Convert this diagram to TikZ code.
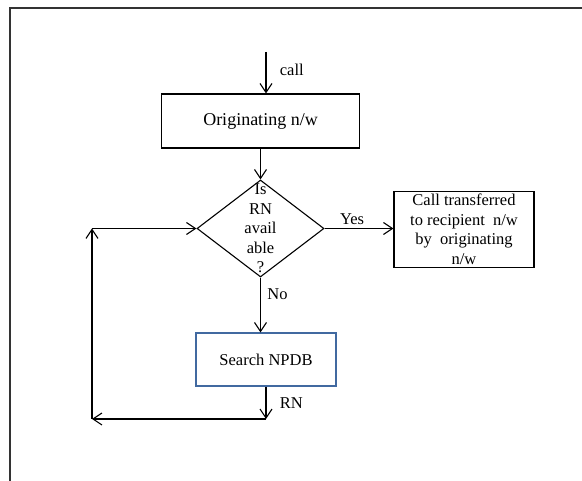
\documentclass[tikz,border=0pt]{standalone}
\usepackage{fontspec}
\setmainfont{Liberation Serif}
\usetikzlibrary{shapes.geometric, arrows.meta}
\definecolor{npdbblue}{RGB}{65,105,160}

\begin{document}
\begin{tikzpicture}[x = 1pt, y = -1pt, line width = 1.1pt,
        font = \fontsize{16.5}{19.5}\selectfont,
        box/.style = {draw = #1, rectangle, inner sep = 0pt, align = center},
        box/.default = black,
        decision/.style = {draw, diamond, minimum width = 127pt, minimum height = 97pt, inner sep = 0pt},
        arr/.style = {-{Straight Barb[length = 9pt, width = 12pt]}}]
    \useasboundingbox (0, 0) rectangle (582, 481);
    \draw[line width = 1.5pt, black!80] (10, 481) -- (10, 8) -- (582, 8);
    \node[box, minimum width = 198pt, minimum height = 54pt, font = \fontsize{18}{20}\selectfont] (orig) at (260.5, 121) {Originating n/w};
    \node[decision] (dec) at (260.5, 228.5) {};
    \node[align = center] (dectext) at (dec.center) {Is\\RN\\avail\\able\\?};
    \node[box, minimum width = 140pt, minimum height = 76pt] (trans) at (464, 229.5) {Call transferred\\to recipient\ \ n/w\\by\ \ originating\\n/w};
    \node[box = npdbblue, minimum width = 140pt, minimum height = 53pt] (npdb) at (266, 359.5) {Search NPDB};
    \coordinate (callin) at (266, 52);
    \coordinate (rnend) at (266, 419);
    \coordinate (lowleft) at (92, 419);
    \coordinate (upleft) at (92, 228.5);
    % main flow
    \draw[arr] (callin) -- node[right, xshift = 10pt, yshift = 3pt]{call} (callin |- orig.north);
    \draw[arr] (orig.south) -- (dec.north);
    \draw[arr] (dec.east) -- node[above, pos = 0.4]{Yes} (dec.east -| trans.west);
    \draw[arr] (dec.south) -- node[right, pos = 0.3, xshift = 3pt]{No} (dec.south |- npdb.north);
    % loop back
    \draw[arr] (npdb.south) -- node[right, xshift = 10pt]{RN} (rnend);
    \draw[arr] (rnend) -- (lowleft);
    \draw[arr] (lowleft) -- (upleft);
    \draw[arr] (upleft) -- (dec.west);
\end{tikzpicture}
\end{document}
